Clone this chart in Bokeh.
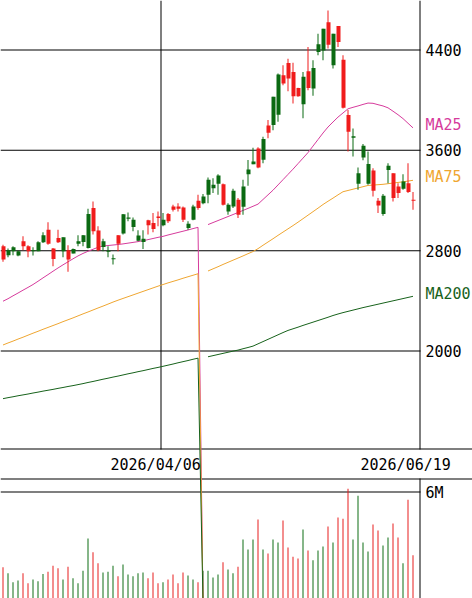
from bokeh.plotting import figure
from bokeh.models import Range1d
from bokeh.embed import file_html
from bokeh.resources import INLINE
from bokeh.core.properties import value

# ---------------- data ----------------
opens = [2835, 2764, 2795, 2761, 2875, 2835, 2795, 2795, 2867, 2967,
         2817, 2901, 2795, 2803, 2777, 2856, 2869, 2822, 3140, 2960,
         2830, 2793, 2732, 2922, 2936, 3055, 2989, 2880, 2869, 3042,
         3020, 3073, 3002, 3092, 3153, 3153, 3145, 2981, 3047, 3198,
         3179, 3245, 3298, 3333, 3330, 3113, 3153, 3206, 3150, 3410,
         3489, 3615, 3524, 3799, 3802, 3884, 4199, 4297, 4225, 4098,
         3968, 4231, 4093, 4384, 4397, 4622, 4278, 4591, 4323, 3881,
         3700, 3333, 3542, 3333, 3439, 3198, 3092, 3444, 3418, 3312,
         3293, 3338, 3206]
highs = [2848, 2817, 2835, 2801, 2915, 2843, 2827, 2875, 2946, 3026,
         2822, 2967, 2907, 2843, 2817, 2922, 2925, 3134, 3192, 2994,
         2896, 2835, 2769, 2925, 3092, 3105, 3065, 2962, 2962, 3047,
         3100, 3113, 3100, 3100, 3166, 3179, 3153, 3034, 3166, 3245,
         3251, 3383, 3378, 3410, 3335, 3179, 3293, 3219, 3365, 3523,
         3620, 3625, 3709, 3841, 4027, 4212, 4278, 4331, 4299, 4100,
         4225, 4424, 4318, 4530, 4569, 4715, 4530, 4591, 4358, 3921,
         3775, 3463, 3650, 3590, 3457, 3219, 3251, 3497, 3418, 3338,
         3410, 3497, 3267]
lows = [2711, 2748, 2764, 2756, 2803, 2748, 2761, 2795, 2862, 2848,
        2676, 2862, 2748, 2631, 2777, 2835, 2835, 2817, 2928, 2795,
        2795, 2748, 2689, 2795, 2928, 3034, 2954, 2875, 2814, 2928,
        2946, 2994, 2994, 3020, 3113, 3113, 3028, 2967, 3042, 3126,
        3171, 3179, 3259, 3245, 3161, 3087, 3140, 3060, 3087, 3318,
        3489, 3457, 3497, 3696, 3760, 3828, 4119, 4072, 3974, 4027,
        3855, 4080, 4035, 4358, 4318, 4411, 4252, 4424, 3934, 3590,
        3550, 3285, 3520, 3325, 3232, 3100, 3079, 3338, 3193, 3219,
        3285, 3259, 3126]
closes = [2729, 2803, 2827, 2795, 2835, 2795, 2803, 2867, 2922, 2856,
          2734, 2867, 2907, 2729, 2814, 2875, 2922, 3092, 2954, 2803,
          2875, 2800, 2739, 2856, 3090, 3065, 3047, 2920, 2896, 3002,
          2973, 3060, 3047, 3034, 3126, 3134, 3047, 3015, 3153, 3140,
          3232, 3365, 3325, 3399, 3166, 3166, 3277, 3087, 3312, 3447,
          3510, 3463, 3690, 3740, 4027, 4204, 4133, 4172, 4032, 4032,
          4186, 4098, 4257, 4445, 4569, 4442, 4530, 4464, 3939, 3749,
          3712, 3418, 3637, 3492, 3277, 3161, 3237, 3478, 3219, 3259,
          3351, 3267, 3198]
volumes_m = [1.76, 1.42, 0.91, 1.01, 1.42, 0.86, 1.07, 0.97, 1.38, 1.51,
             1.85, 1.70, 1.07, 1.79, 1.14, 0.86, 1.57, 3.38, 2.60, 1.98,
             1.47, 1.51, 1.85, 1.25, 1.91, 1.35, 1.25, 1.42, 1.47, 1.14,
             1.47, 0.86, 0.91, 1.07, 1.35, 0.86, 1.46, 1.29, 1.07, 0.91,
             1.57, 1.57, 1.19, 1.35, 2.04, 1.63, 1.42, 1.79, 3.33, 2.76,
             3.33, 4.45, 2.76, 2.54, 3.33, 3.16, 4.39, 2.88, 2.35, 2.26,
             3.89, 2.71, 2.15, 2.71, 2.93, 4.05, 3.16, 4.56, 4.50, 6.18,
             3.33, 5.79, 3.16, 2.65, 4.17, 3.83, 2.99, 3.44, 4.22, 3.44,
             1.98, 5.57, 2.43]
ma25 = [2397, 2417, 2440, 2462, 2485, 2507, 2530, 2556, 2583, 2609,
        2636, 2662, 2687, 2711, 2735, 2758, 2778, 2795, 2811, 2827,
        2837, 2841, 2845, 2849, 2854, 2860, 2866, 2872, 2879, 2888,
        2897, 2906, 2914, 2925, 2935, 2945, 2955, 2965, 2976, 2986,
        0, 3008, 3024, 3040, 3056, 3072, 3088, 3104, 3121, 3137,
        3154, 3171, 3208, 3245, 3282, 3324, 3366, 3408, 3450, 3494,
        3538, 3582, 3634, 3686, 3738, 3786, 3826, 3865, 3898, 3931,
        3943, 3954, 3966, 3977, 3975, 3964, 3954, 3939, 3912, 3884,
        3853, 3816, 3779]
ma75 = [2048, 2064, 2079, 2095, 2110, 2126, 2142, 2157, 2173, 2188,
        2203, 2218, 2234, 2249, 2264, 2280, 2296, 2311, 2327, 2343,
        2358, 2374, 2390, 2405, 2419, 2433, 2447, 2461, 2475, 2489,
        2503, 2517, 2530, 2543, 2555, 2567, 2580, 2592, 2604, 2616,
        0, 2638, 2655, 2672, 2690, 2707, 2724, 2741, 2758, 2776,
        2793, 2816, 2843, 2869, 2895, 2922, 2948, 2974, 3000, 3027,
        3055, 3083, 3111, 3139, 3168, 3194, 3219, 3245, 3270, 3280,
        3290, 3300, 3310, 3320, 3323, 3326, 3329, 3334, 3339, 3344,
        3349, 3355, 3361]
ma200 = [1620, 1628, 1635, 1643, 1650, 1657, 1665, 1672, 1680, 1687,
         1694, 1702, 1709, 1717, 1724, 1732, 1740, 1749, 1757, 1766,
         1775, 1783, 1792, 1800, 1809, 1818, 1826, 1835, 1843, 1852,
         1861, 1869, 1878, 1887, 1896, 1906, 1915, 1924, 1934, 1943,
         0, 1954, 1963, 1972, 1981, 1990, 1999, 2007, 2018, 2028,
         2039, 2057, 2075, 2093, 2111, 2129, 2147, 2164, 2177, 2190,
         2204, 2217, 2230, 2243, 2256, 2269, 2283, 2295, 2306, 2316,
         2326, 2336, 2346, 2355, 2364, 2373, 2382, 2391, 2400, 2409,
         2418, 2427, 2436]
price_ticks = [4400, 3600, 2800, 2000]
price_tick_labels = ["4400", "3600", "2800", "2000"]
volume_tick = 6.0
volume_tick_label = "6M"
date_labels = ["2026/04/06", "2026/06/19"]
ma_names = ["MA25", "MA75", "MA200"]
gap_index = 40  # data break after this day

# ---------------- styling / layout ----------------
W, H = 472, 598
UP = "#0b6a12"
DOWN = "#f01c1c"
VUP = "#0f6f14"
VDOWN = "#e81e1e"
MA_COLORS = ["#d63b9c", "#efa631", "#17621b"]
FONT = value("DejaVu Sans Mono")
VOL_TOP = 6e6 * H / 106.5

n = len(opens)
idx = list(range(n))
vols = [v * 1e6 for v in volumes_m]

p = figure(width=W, height=H, output_backend="svg", toolbar_location=None,
           x_range=Range1d(-0.5, -0.5 + W / 5.0),
           y_range=Range1d(26.6, 4794.7),
           x_axis_location=None, y_axis_location=None,
           min_border=0, outline_line_color=None)
p.grid.visible = False
p.background_fill_color = "white"
p.border_fill_color = "white"
p.extra_x_ranges = {"px": Range1d(0, W)}
p.extra_y_ranges = {"py": Range1d(H, 0), "vol": Range1d(0, VOL_TOP)}

# frame lines (1px filled strips, crisp)
px_per_price = (H) / (4794.7 - 26.6)
half_p = 0.5 / px_per_price
p.quad(left=[0] * 4, right=[420] * 4,
       bottom=[t - half_p for t in price_ticks], top=[t + half_p for t in price_ticks],
       x_range_name="px", fill_color="black", line_color=None)
half_v = 0.5 * VOL_TOP / H
p.quad(left=[0], right=[420], bottom=[volume_tick * 1e6 - half_v],
       top=[volume_tick * 1e6 + half_v], x_range_name="px", y_range_name="vol",
       fill_color="black", line_color=None)
p.quad(left=[0, 0, 419, 419, 160], right=[W, W, 420, 420, 161],
       top=[448, 478, 0, 478, 0], bottom=[449, 479, 449, H, 449],
       x_range_name="px", y_range_name="py", fill_color="black", line_color=None)

# volume bars (1px)
vcol = [VUP if c >= o else VDOWN for o, c in zip(opens, closes)]
p.vbar(x=idx, width=0.2, bottom=[0] * n, top=vols, y_range_name="vol",
       fill_color=vcol, line_color=None)

# moving averages (broken at the gap day)
for ma, col in zip([ma25, ma75, ma200], MA_COLORS):
    p.line(idx[:gap_index + 1], ma[:gap_index + 1], line_color=col, line_width=1)
    p.line(idx[gap_index + 1:], ma[gap_index + 1:], line_color=col, line_width=1)

# candles
ccol = [UP if c >= o else DOWN for o, c in zip(opens, closes)]
p.vbar(x=idx, width=0.2, top=highs, bottom=lows, fill_color=ccol, line_color=None)
tops = [max(o, c) for o, c in zip(opens, closes)]
bots = [min(o, c, max(o, c) - 8) for o, c in zip(opens, closes)]
p.vbar(x=[i + 0.1 for i in idx], width=0.8, top=tops, bottom=bots,
       fill_color=ccol, line_color=None)

# right-hand labels
p.text(x=[425] * 4, y=price_ticks, text=price_tick_labels, x_range_name="px",
       text_font=FONT, text_font_size="15px", text_baseline="alphabetic",
       text_color="black", y_offset=0)
p.text(x=[425], y=[volume_tick * 1e6], text=[volume_tick_label], x_range_name="px",
       y_range_name="vol", text_font=FONT, text_font_size="15px",
       text_baseline="alphabetic", text_color="black", y_offset=0.5)
p.text(x=[425, 425, 425], y=[124.5, 176, 293.5], text=ma_names,
       x_range_name="px", y_range_name="py", text_font=FONT, text_font_size="15px",
       text_baseline="alphabetic", text_color=MA_COLORS)
p.text(x=[110, 360], y=[464.5, 464.5], text=date_labels,
       x_range_name="px", y_range_name="py", text_font=FONT, text_font_size="15px",
       text_baseline="alphabetic", text_color="black")

open("out.html", "w").write(file_html(p, INLINE))
